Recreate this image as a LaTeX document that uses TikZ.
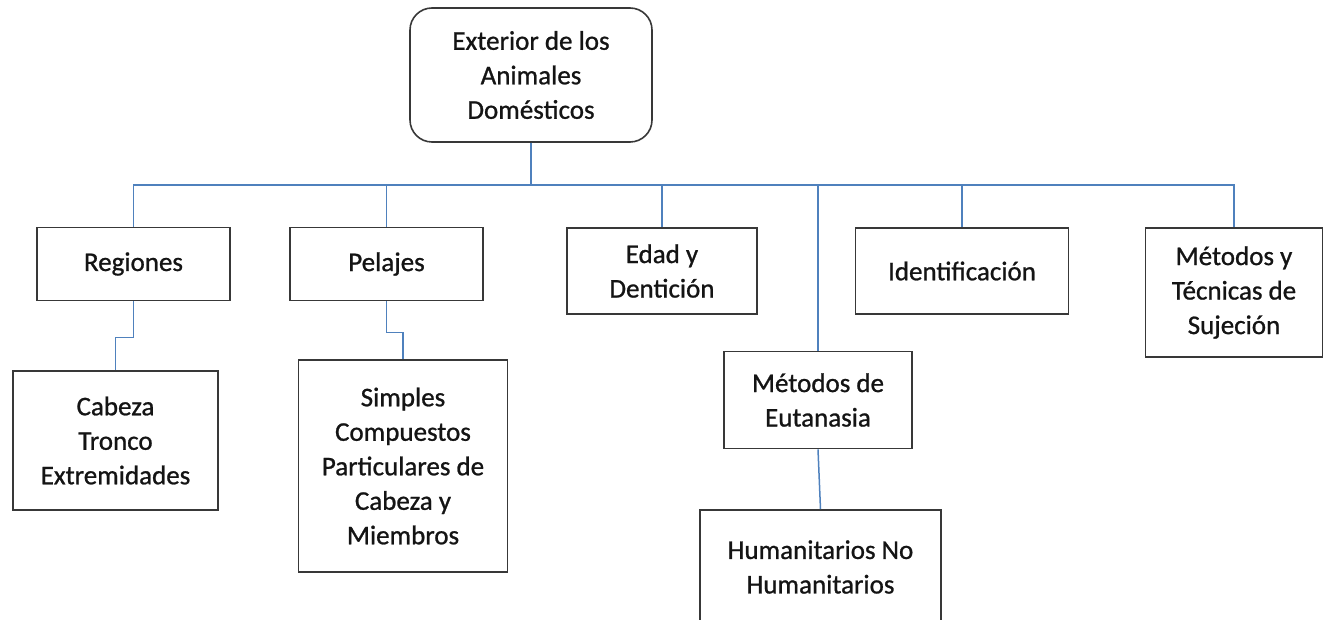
\documentclass[tikz,border=0pt]{standalone}
\usepackage{fontspec}
\setmainfont{Carlito}
\newfontfamily\boxfont{Carlito}[UprightFeatures={FakeBold=0.9}]
\begin{document}
\begin{tikzpicture}[x=1pt,y=-1pt,
  box/.style={draw=black!78,line width=1.6pt,fill=white,rectangle,align=center,inner sep=0pt,
    font=\boxfont\fontsize{27}{34.5}\selectfont,text=black!92},
  link/.style={draw={rgb,255:red,79;green,129;blue,189},line width=1.5pt}]
\useasboundingbox (0,0) rectangle (1323,620);
\clip (0,0) rectangle (1323,620);
\node[box,rounded corners=22pt,minimum width=242pt,minimum height=134pt] (top) at (531,75) {Exterior de los\\Animales\\Domésticos};
\node[box,minimum width=193pt,minimum height=73pt] (reg) at (133.5,264) {Regiones};
\node[box,minimum width=193pt,minimum height=73pt] (pel) at (386.5,264) {Pelajes};
\node[box,minimum width=190pt,minimum height=86pt] (eda) at (662,271) {Edad y\\Dentición};
\node[box,minimum width=188pt,minimum height=97pt] (eut) at (818,400) {Métodos de\\Eutanasia};
\node[box,minimum width=213pt,minimum height=86pt] (ide) at (962,271) {Identificación};
\node[box,minimum width=177pt,minimum height=129pt] (suj) at (1234,292.5) {Métodos y\\Técnicas de\\Sujeción};
\node[box,minimum width=205pt,minimum height=139pt] (cab) at (115.5,440.5) {Cabeza\\Tronco\\Extremidades};
\node[box,minimum width=209pt,minimum height=212pt] (sim) at (403,466) {Simples\\Compuestos\\Particulares de\\Cabeza y\\Miembros};
\node[box,minimum width=241pt,minimum height=114pt] (hum) at (820.5,567) {Humanitarios No\\Humanitarios};
\draw[link] (top.south) -- ++(0,42) -| (reg.north);
\draw[link] (top.south) -- ++(0,42) -| (pel.north);
\draw[link] (top.south) -- ++(0,42) -| (eda.north);
\draw[link] (top.south) -- ++(0,42) -| (eut.north);
\draw[link] (top.south) -- ++(0,42) -| (ide.north);
\draw[link] (top.south) -- ++(0,42) -| (suj.north);
\draw[link] (reg.south) -- ++(0,36) -| (cab.north);
\draw[link] (pel.south) -- ++(0,31) -| (sim.north);
\draw[link] (eut.south) -- (hum.north);
\end{tikzpicture}
\end{document}
